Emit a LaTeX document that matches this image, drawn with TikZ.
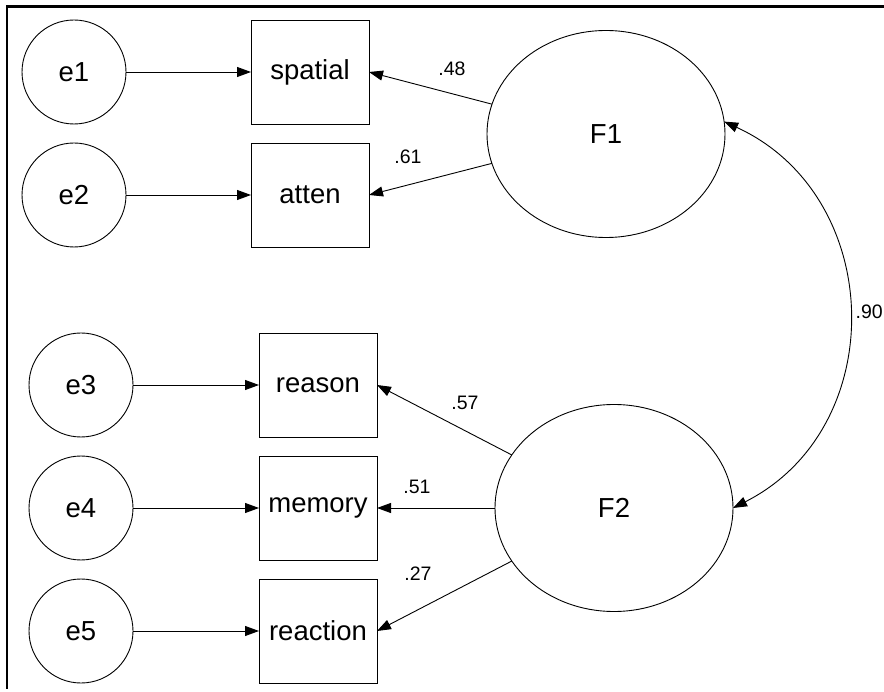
\documentclass[tikz,border=0pt]{standalone}
\usepackage{fontspec}
\setmainfont{Liberation Sans}
\usetikzlibrary{shapes.geometric,arrows.meta}
\begin{document}
\begin{tikzpicture}[x=1pt,y=-1pt,
  nodefont/.style={font=\fontsize{27.5}{31}\selectfont},
  err/.style={circle, draw, line width=0.9pt, minimum size=104pt, inner sep=0pt, outer sep=0pt, nodefont},
  obs/.style={rectangle, draw, line width=0.9pt, minimum width=118pt, minimum height=104pt, inner sep=0pt, outer sep=0pt, nodefont},
  lat/.style={ellipse, draw, line width=0.9pt, minimum width=238pt, minimum height=207pt, inner sep=0pt, outer sep=0pt, nodefont},
  pathline/.style={-{Triangle[length=14pt,width=10pt]}, line width=0.9pt},
  coef/.style={font=\fontsize{19.5}{22}\selectfont, inner sep=0pt}
]
\useasboundingbox (0,0) rectangle (884,692);
\draw[line width=2.5pt] (884,6.5) -- (7,6.5) -- (7,689);

\node[err] (e1) at (74,72) {e1};
\node[obs] (spatial) at (310,72) {spatial};
\node[err] (e2) at (74,195) {e2};
\node[obs] (atten) at (310,195) {atten};
\node[err] (e3) at (81,385) {e3};
\node[obs] (reason) at (318,385) {reason};
\node[err] (e4) at (81,508) {e4};
\node[obs] (memory) at (318,508) {memory};
\node[err] (e5) at (81,631) {e5};
\node[obs] (reaction) at (318,631) {reaction};
\node[lat] (F1) at (606,134) {F1};
\node[lat] (F2) at (614,508) {F2};

\draw[pathline] (e1) -- (spatial);
\draw[pathline] (e2) -- (atten);
\draw[pathline] (e3) -- (reason);
\draw[pathline] (e4) -- (memory);
\draw[pathline] (e5) -- (reaction);

\draw[pathline] (F1) -- (spatial.east);
\draw[pathline] (F1) -- (atten.east);
\draw[pathline] (F2) -- (reason.east);
\draw[pathline] (F2) -- (memory.east);
\draw[pathline] (F2) -- (reaction.east);

\draw[{Triangle[length=14pt,width=10pt]}-{Triangle[length=14pt,width=10pt]}, line width=0.9pt]
  (F1.6) .. controls (886,196) and (891,428) .. (F2.east);

\node[coef] (l48) at (452,68.5) {.48};
\node[coef] (l61) at (408,156.5) {.61};
\node[coef] (l57) at (465,402.5) {.57};
\node[coef] (l51) at (417,486.5) {.51};
\node[coef] (l27) at (418,574) {.27};
\node[coef, anchor=west] (l90) at (855.5,311.5) {.90};
\end{tikzpicture}
\end{document}
